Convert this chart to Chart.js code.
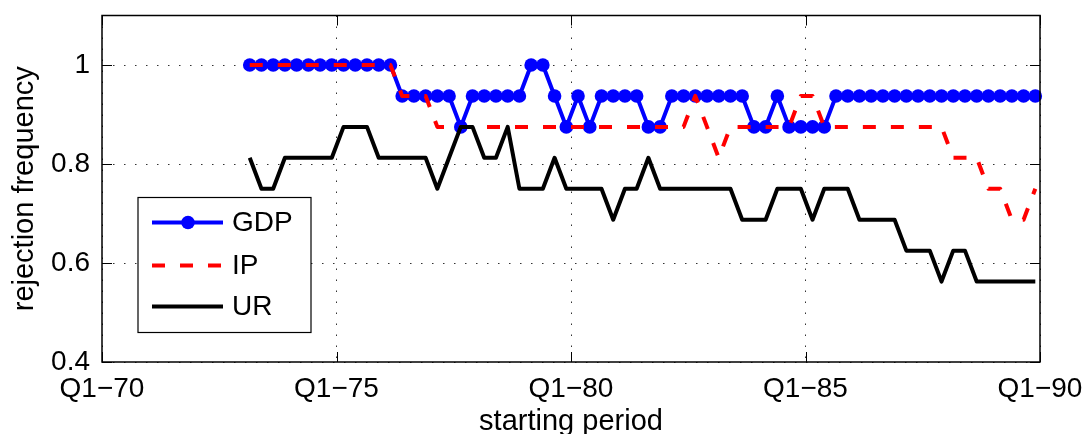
<!DOCTYPE html>
<html>
<head>
<meta charset="utf-8">
<script src="https://cdn.jsdelivr.net/npm/chart.js@4/dist/chart.umd.min.js"></script>
<style>
    html, body { margin: 0; padding: 0; background: #fff; }
    #wrap { width: 1089px; height: 434px; }
</style>
</head>
<body>
<div id="wrap"><canvas id="lineChart" width="1089" height="434"></canvas></div>
<script>
// Rejection frequency per starting quarter (first quarter is firstPeriod)
const gdp = [
    1, 1, 1, 1, 1, 1, 1, 1, 1, 1, 1, 1, 1,
    0.9375, 0.9375, 0.9375, 0.9375, 0.9375, 0.875,
    0.9375, 0.9375, 0.9375, 0.9375, 0.9375, 1, 1,
    0.9375, 0.875, 0.9375, 0.875, 0.9375, 0.9375, 0.9375, 0.9375,
    0.875, 0.875, 0.9375, 0.9375, 0.9375, 0.9375, 0.9375, 0.9375, 0.9375,
    0.875, 0.875, 0.9375, 0.875, 0.875, 0.875, 0.875,
    0.9375, 0.9375, 0.9375, 0.9375, 0.9375, 0.9375, 0.9375, 0.9375, 0.9375,
    0.9375, 0.9375, 0.9375, 0.9375, 0.9375, 0.9375, 0.9375, 0.9375, 0.9375
];
const ip = [
    1, 1, 1, 1, 1, 1, 1, 1, 1, 1, 1, 1, 1,
    0.9375, 0.9375, 0.9375,
    0.875, 0.875, 0.875, 0.875, 0.875, 0.875, 0.875, 0.875, 0.875, 0.875, 0.875,
    0.875, 0.875, 0.875, 0.875, 0.875, 0.875, 0.875, 0.875, 0.875, 0.875, 0.875,
    0.9375, 0.875, 0.8125, 0.875, 0.875, 0.875, 0.875, 0.875, 0.875,
    0.9375, 0.9375,
    0.875, 0.875, 0.875, 0.875, 0.875, 0.875, 0.875, 0.875, 0.875, 0.875, 0.875,
    0.8125, 0.8125, 0.8125, 0.75, 0.75, 0.6875, 0.6875, 0.75
];
const ur = [
    0.8125, 0.75, 0.75, 0.8125, 0.8125, 0.8125, 0.8125, 0.8125,
    0.875, 0.875, 0.875, 0.8125, 0.8125, 0.8125, 0.8125, 0.8125,
    0.75, 0.8125, 0.875, 0.875, 0.8125, 0.8125, 0.875,
    0.75, 0.75, 0.75, 0.8125, 0.75, 0.75, 0.75, 0.75,
    0.6875, 0.75, 0.75, 0.8125, 0.75, 0.75, 0.75, 0.75, 0.75, 0.75, 0.75,
    0.6875, 0.6875, 0.6875, 0.75, 0.75, 0.75, 0.6875, 0.75, 0.75, 0.75,
    0.6875, 0.6875, 0.6875, 0.6875, 0.625, 0.625, 0.625, 0.5625,
    0.625, 0.625, 0.5625, 0.5625, 0.5625, 0.5625, 0.5625, 0.5625
];
const seriesNames = ["GDP", "IP", "UR"];
const firstPeriod = 1973.15; // first starting period, in years
const xTicks = [1970, 1975, 1980, 1985, 1990];
const yTicks = [0.4, 0.6, 0.8, 1];

const FONT = "'Liberation Sans', Arial, Helvetica, sans-serif";
Chart.defaults.font.family = FONT;
Chart.defaults.color = "#000";

// pair each value with its quarter
function toPoints(values) {
    return values.map((v, i) => ({x: firstPeriod + i / 4, y: v}));
}

// box, inward tick marks and the boxed legend
const matlabFrame = {
    id: "matlabFrame",
    afterDraw(chart) {
        const ctx = chart.ctx;
        const area = chart.chartArea;
        const xs = chart.scales.x;
        const ys = chart.scales.y;
        ctx.save();
        ctx.strokeStyle = "#000";
        ctx.lineWidth = 1;
        ctx.setLineDash([]);
        ctx.beginPath();
        xTicks.forEach((t) => {
            const px = Math.round(xs.getPixelForValue(t)) + 0.5;
            ctx.moveTo(px, area.bottom);
            ctx.lineTo(px, area.bottom - 10);
            ctx.moveTo(px, area.top);
            ctx.lineTo(px, area.top + 10);
        });
        yTicks.forEach((t) => {
            const py = Math.round(ys.getPixelForValue(t)) + 0.5;
            ctx.moveTo(area.left, py);
            ctx.lineTo(area.left + 10, py);
            ctx.moveTo(area.right, py);
            ctx.lineTo(area.right - 10, py);
        });
        ctx.stroke();
        ctx.lineWidth = 1.5;
        ctx.strokeRect(area.left, area.top, area.right - area.left, area.bottom - area.top);

        // legend
        const bx = area.left + 36, by = area.top + 182, bw = 173, bh = 135;
        ctx.fillStyle = "#fff";
        ctx.fillRect(bx, by, bw, bh);
        ctx.lineWidth = 1.2;
        ctx.strokeRect(bx, by, bw, bh);
        const rowY = [25, 68, 109];
        ctx.font = "28px " + FONT;
        ctx.textBaseline = "middle";
        chart.data.datasets.forEach((ds, i) => {
            const y = by + rowY[i];
            ctx.strokeStyle = ds.borderColor;
            ctx.lineWidth = ds.borderWidth;
            ctx.setLineDash(ds.borderDash || []);
            ctx.beginPath();
            ctx.moveTo(bx + 14, y);
            ctx.lineTo(bx + 85, y);
            ctx.stroke();
            ctx.setLineDash([]);
            if (ds.pointRadius > 0) {
                ctx.fillStyle = ds.pointBackgroundColor;
                ctx.beginPath();
                ctx.arc(bx + 50, y, ds.pointRadius, 0, Math.PI * 2);
                ctx.fill();
            }
            ctx.fillStyle = "#000";
            ctx.fillText(ds.label, bx + 94, y + 1);
        });
        ctx.restore();
    }
};

const chart = new Chart(document.getElementById("lineChart"), {
    type: "line",
    data: {
        datasets: [
            {
                label: seriesNames[0],
                data: toPoints(gdp),
                borderColor: "#0000ff",
                backgroundColor: "#0000ff",
                pointBackgroundColor: "#0000ff",
                borderWidth: 4,
                pointRadius: 6.8,
                pointBorderWidth: 0,
                order: 3,
            },
            {
                label: seriesNames[1],
                data: toPoints(ip),
                borderColor: "#ff0000",
                borderWidth: 4,
                borderDash: [13, 15],
                pointRadius: 0,
                order: 2,
            },
            {
                label: seriesNames[2],
                data: toPoints(ur),
                borderColor: "#000000",
                borderWidth: 4,
                pointRadius: 0,
                order: 1,
            },
        ],
    },
    options: {
        responsive: false,
        animation: false,
        devicePixelRatio: 1,
        clip: false,
        layout: {padding: {top: 15.5, right: 49, left: 0, bottom: 0}},
        elements: {line: {tension: 0, borderJoinStyle: "round"}},
        plugins: {
            legend: {display: false},
            tooltip: {enabled: false},
        },
        scales: {
            x: {
                type: "linear",
                min: 1970,
                max: 1990,
                afterBuildTicks: (s) => { s.ticks = xTicks.map((v) => ({value: v})); },
                afterFit: (s) => {
                    s.height = 72;
                    s.paddingLeft = 0;
                    s.paddingRight = 0;
                },
                ticks: {
                    font: {size: 28},
                    padding: 10,
                    maxRotation: 0,
                    callback: (v) => "Q1\u2212" + String(v).slice(2),
                },
                grid: {color: "#333", lineWidth: 1, drawTicks: false},
                border: {display: false, dash: [1.5, 9.5]},
                title: {
                    display: true,
                    text: "starting period",
                    font: {size: 29, lineHeight: 0.8},
                    padding: {top: 0, bottom: 0},
                },
            },
            y: {
                min: 0.4,
                max: 1.1,
                afterBuildTicks: (s) => { s.ticks = yTicks.map((v) => ({value: v})); },
                afterFit: (s) => {
                    s.width = 102;
                    s.paddingTop = 0;
                    s.paddingBottom = 0;
                },
                ticks: {
                    font: {size: 28},
                    padding: 12,
                    callback: (v) => (v === 1 ? "1" : v.toFixed(1)),
                },
                grid: {color: "#333", lineWidth: 1, drawTicks: false},
                border: {display: false, dash: [1.5, 9.5]},
                title: {
                    display: true,
                    text: "rejection frequency",
                    font: {size: 29},
                    padding: {top: 8, bottom: 0},
                },
            },
        },
    },
    plugins: [matlabFrame],
});
</script>
</body>
</html>
